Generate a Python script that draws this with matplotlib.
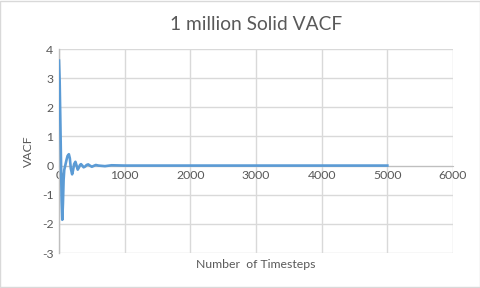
import matplotlib
matplotlib.use("Agg")
import matplotlib.pyplot as plt
from matplotlib.patches import Rectangle

timesteps = [0, 10, 20, 30, 40, 50, 60, 70, 80, 90, 100, 115, 130, 150, 165, 180,
             200, 215, 230, 250, 265, 285, 300, 320, 335, 355, 375, 400, 420, 445,
             470, 500, 530, 560, 600, 700, 800, 1000, 1500, 2000, 3000, 4000, 5000]
vacf = [3.6, 2.9, 1.6, 0.2, -1.2, -1.86, -1.3, -0.5, -0.15, -0.05, 0.05, 0.2, 0.33,
        0.39, 0.25, -0.1, -0.3, -0.15, 0.05, 0.13, 0.02, -0.14, -0.08, 0.02, 0.05,
        0.0, -0.06, -0.03, 0.02, 0.04, 0.0, -0.04, -0.01, 0.02, 0.0, -0.02, 0.01,
        0.0, 0.0, 0.0, 0.0, 0.0, 0.0]

title = "1 million Solid VACF"
xlabel = "Number  of Timesteps"
ylabel = "VACF"
xticks = [0, 1000, 2000, 3000, 4000, 5000, 6000]
yticks = [-3, -2, -1, 0, 1, 2, 3, 4]

plt.rcParams['font.family'] = ['Lato', 'DejaVu Sans']
text_color = '#595959'
grid_color = '#d9d9d9'

fig = plt.figure(figsize=(4.81, 2.88), dpi=100)
fig.patches.append(Rectangle((0.001, 0.002), 0.997, 0.995, transform=fig.transFigure,
                             fill=False, edgecolor='#d9d9d9', linewidth=1.0))

ax = fig.add_axes([59/481, 1-253/288, (453-59)/481, (253-49)/288])
ax.plot(timesteps, vacf, color='#5B9BD5', linewidth=1.9, solid_joinstyle='round', zorder=3)

ax.set_xlim(0, 6000)
ax.set_ylim(-3, 4)
ax.set_xticks(xticks)
ax.set_yticks(yticks)
ax.set_yticklabels([str(v) for v in yticks])
ax.grid(True, color=grid_color, linewidth=1.0)
ax.set_axisbelow(True)

for s in ['top', 'right', 'bottom']:
    ax.spines[s].set_visible(False)
ax.spines['left'].set_color('#bfbfbf')
ax.spines['left'].set_linewidth(1.0)
ax.spines['bottom'].set_visible(True)
ax.spines['bottom'].set_position(('data', 0))
ax.spines['bottom'].set_color('#bfbfbf')
ax.spines['bottom'].set_zorder(2)

ax.tick_params(axis='both', length=0, labelsize=8.8, colors=text_color, pad=4)
ax.tick_params(axis='x', pad=3)

ax.set_title(title, fontsize=13.8, color=text_color, pad=14)
ax.set_xlabel(xlabel, fontsize=8.8, color=text_color, labelpad=0)
ax.xaxis.set_label_coords(0.5, -0.028)
ax.set_ylabel(ylabel, fontsize=8.8, color=text_color, labelpad=6)

fig.savefig("out.png", dpi=100)
